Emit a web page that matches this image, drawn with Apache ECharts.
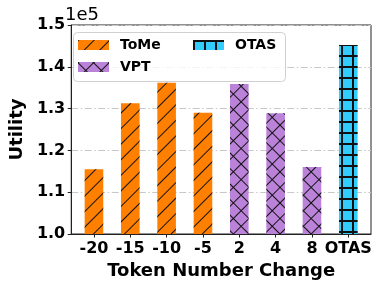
<!DOCTYPE html>
<html>
<head>
<meta charset="utf-8">
<script src="https://cdn.jsdelivr.net/npm/echarts@6/dist/echarts.min.js"></script>
<style>
html,body{margin:0;padding:0;background:#fff;}
#chart{width:382px;height:287px;}
</style>
</head>
<body>
<div id="chart"></div>
<script>
const categories = ['-20', '-15', '-10', '-5', '2', '4', '8', 'OTAS'];
const tomeValues = [115500, 131300, 136200, 129000];
const vptValues = [135900, 128900, 116000];
const otasValues = [145200];
const yTicks = [100000, 110000, 120000, 130000, 140000, 150000];

const FONT = 'DejaVu Sans';
const tomeData = tomeValues.map((v, i) => [i, v]);
const vptData = vptValues.map((v, i) => [i + 4, v]);
const otasData = otasValues.map((v, i) => [i + 7, v]);

const slashDecal = {
  symbol: 'rect', color: '#111',
  dashArrayX: [[20, 0]], dashArrayY: [1, 9.6],
  rotation: -Math.PI / 4
};
const crossDecal = {
  symbol: 'rect', color: '#111',
  dashArrayX: [[10.6, 0], [1, 9.6]], dashArrayY: [1, 0, 9.6, 0],
  rotation: Math.PI / 4
};
const plusDecal = {
  symbol: 'rect', color: '#111',
  dashArrayX: [[10, 0], [1.3, 8.7]], dashArrayY: [1.3, 0, 8.7, 0],
  rotation: 0
};

const chart = echarts.init(document.getElementById('chart'), null, {renderer: 'canvas'});
const barW = 18.6;
chart.setOption({
  animation: false,
  grid: {left: 64, right: 11, top: 25, bottom: 53, show: true, borderColor: '#222', borderWidth: 1, backgroundColor: 'transparent'},
  xAxis: {
    type: 'value', min: -0.625, max: 7.625,
    axisLine: {show: true, onZero: false, lineStyle: {color: '#222', width: 1}},
    axisTick: {show: true, inside: false, length: 3.5, lineStyle: {color: '#222'}, customValues: categories.map((c, i) => i)},
    axisLabel: {
      customValues: categories.map((c, i) => i),
      formatter: v => categories[Math.round(v)],
      fontFamily: FONT, fontWeight: 'bold', fontSize: 16, color: '#000', margin: 7
    },
    splitLine: {show: false},
    name: 'Token Number Change', nameLocation: 'middle', nameGap: 25,
    nameTextStyle: {fontFamily: FONT, fontWeight: 'bold', fontSize: 18, color: '#000'}
  },
  yAxis: {
    type: 'value', min: yTicks[0], max: yTicks[yTicks.length - 1], interval: 10000,
    axisLine: {show: true, onZero: false, lineStyle: {color: '#222', width: 1}},
    axisTick: {show: true, inside: false, length: 3.5, lineStyle: {color: '#222'}},
    axisLabel: {
      formatter: v => (v / 100000).toFixed(1),
      fontFamily: FONT, fontWeight: 'bold', fontSize: 16, color: '#000', margin: 6
    },
    splitLine: {show: true, lineStyle: {color: '#c8c8c8', width: 1, type: [7, 2.5, 1.5, 2.5]}},
    name: 'Utility', nameLocation: 'middle', nameGap: 38, nameRotate: 90,
    nameTextStyle: {fontFamily: FONT, fontWeight: 'bold', fontSize: 18, color: '#000'}
  },
  legend: [
    {
      data: ['ToMe', 'VPT'], orient: 'vertical', left: 73, top: 38,
      itemWidth: 31, itemHeight: 10, itemGap: 8, padding: [0, 0, 0, 5],
      icon: 'rect', z: 20,
      textStyle: {fontFamily: FONT, fontWeight: 'bold', fontSize: 14, color: '#000', padding: [0, 0, 0, 6]}
    },
    {
      data: ['OTAS'], orient: 'vertical', left: 188, top: 38,
      itemWidth: 31, itemHeight: 10, padding: [0, 0, 0, 5],
      icon: 'rect', z: 20,
      textStyle: {fontFamily: FONT, fontWeight: 'bold', fontSize: 14, color: '#000', padding: [0, 0, 0, 6]}
    }
  ],
  graphic: [
    {type: 'rect', left: 73, top: 32, z: 10, shape: {width: 212, height: 49, r: 4},
     style: {fill: 'rgba(255,255,255,0.8)', stroke: '#d0d0d0', lineWidth: 1}},
    {type: 'text', left: 65, top: 6, z: 10,
     style: {text: '1e5', fontFamily: FONT, fontSize: 18, fill: '#000'}}
  ],
  series: [
    {name: 'ToMe', type: 'bar', data: tomeData, barWidth: barW, barGap: '-100%',
     itemStyle: {color: '#ff8000', decal: slashDecal}},
    {name: 'VPT', type: 'bar', data: vptData, barWidth: barW, barGap: '-100%',
     itemStyle: {color: '#bb82d9', decal: crossDecal}},
    {name: 'OTAS', type: 'bar', data: otasData, barWidth: barW, barGap: '-100%',
     itemStyle: {color: '#33ccff', decal: plusDecal}}
  ]
});
</script>
</body>
</html>
